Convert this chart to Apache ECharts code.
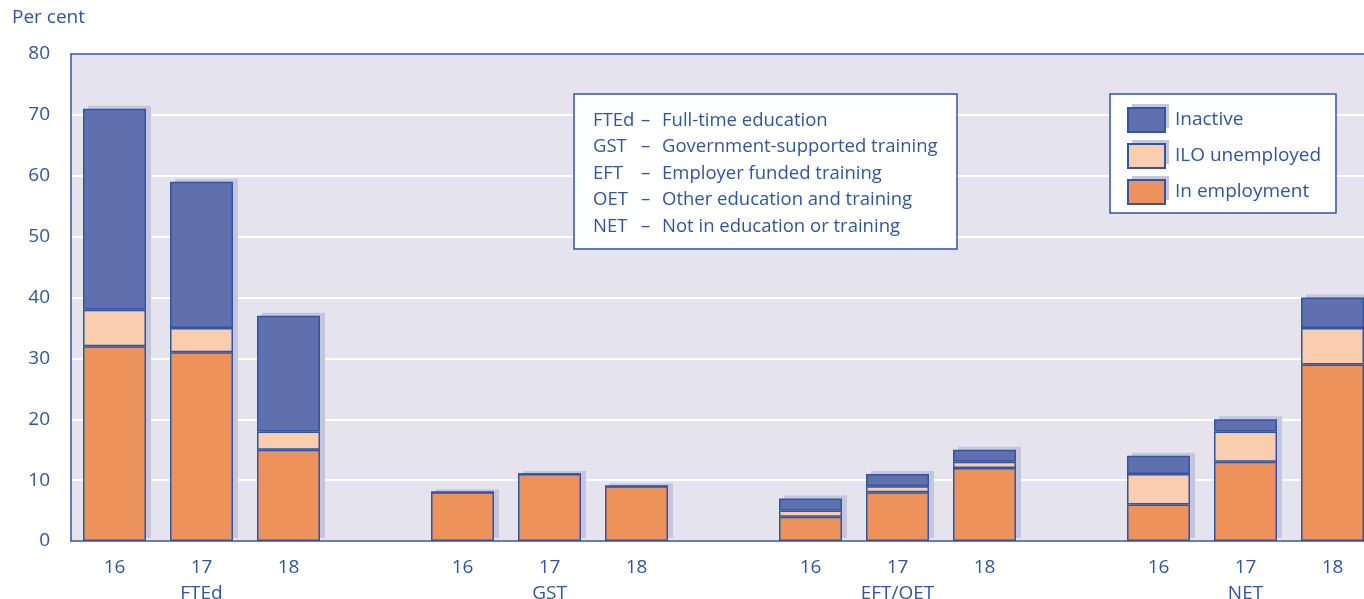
<!DOCTYPE html>
<html><head><meta charset="utf-8">
<script src="https://cdn.jsdelivr.net/npm/echarts@6/dist/echarts.min.js"></script>
<style>html,body{margin:0;padding:0;background:#fff}#c{width:1364px;height:599px}</style>
</head><body><div id="c"></div>
<script>
const groups = ['FTEd','GST','EFT/OET','NET'];
const ages = ['16','17','18'];
const categories = ['FTEd-16','FTEd-17','FTEd-18','gap1','GST-16','GST-17','GST-18','gap2','EFT/OET-16','EFT/OET-17','EFT/OET-18','gap3','NET-16','NET-17','NET-18'];
const inEmployment = [32,31,15,null,8,11,9,null,4,8,12,null,6,13,29];
const iloUnemployed = [6,4,3,null,0,0,0,null,1,1,1,null,5,5,6];
const inactive = [33,24,19,null,0,0,0,null,2,2,2,null,3,2,5];
const yTicks = [0,10,20,30,40,50,60,70,80];
const abbrevs = [['FTEd','Full-time education'],['GST','Government-supported training'],['EFT','Employer funded training'],['OET','Other education and training'],['NET','Not in education or training']];
const legendNames = ['Inactive','ILO unemployed','In employment'];

const BLUE = '#2f56a2';
const SHADOW = '#c5c5dc';
const FONT = 'Open Sans';
const totals = categories.map((c,i)=> inEmployment[i]==null ? null : inEmployment[i]+iloUnemployed[i]+inactive[i]);

function bar(name, data, color){
  return {name, type:'bar', stack:'s', data, barWidth:63, z:3,
    itemStyle:{color, borderColor:BLUE, borderWidth:1.5},
    emphasis:{disabled:true}};
}
const chart = echarts.init(document.getElementById('c'), null, {renderer:'canvas'});
const absLines = abbrevs.map(a=>a[0]).join('\n');
const descLines = abbrevs.map(a=>a[1]).join('\n');
const dashLines = abbrevs.map(()=> '–').join('\n');

const legendGraphics = [
  {type:'rect', shape:{x:1110, y:94, width:226, height:119}, style:{fill:'#ffffff', stroke:BLUE, lineWidth:1.5}, z:10}
];
legendNames.forEach((n,i)=>{
  legendGraphics.push({type:'rect', shape:{x:1132, y:104+i*36, width:37, height:24}, style:{fill:SHADOW}, z:11});
});

chart.setOption({
  animation:false,
  textStyle:{fontFamily:FONT},
  grid:{left:71, top:54, bottom:58, width:1305, outerBoundsMode:'none', containLabel:false, show:true, backgroundColor:'#e4e3ee', borderWidth:0},
  xAxis:[{type:'category', data:categories,
    axisLine:{lineStyle:{color:BLUE, width:1.5}}, axisTick:{show:false},
    axisLabel:{interval:0, margin:14, color:BLUE, fontSize:19, fontFamily:FONT, lineHeight:26,
      formatter:(v)=>{ if(v.startsWith('gap')) return ''; const i=v.lastIndexOf('-'); const g=v.slice(0,i), a=v.slice(i+1); return a==='17' ? a+'\n'+g : a; }}},
    {type:'category', data:categories, position:'top', axisLine:{show:true, lineStyle:{color:BLUE, width:1.5}}, axisTick:{show:false}, axisLabel:{show:false}}],
  yAxis:{type:'value', min:0, max:80, interval:10,
    axisLine:{show:true, lineStyle:{color:BLUE, width:1.5}}, axisTick:{show:false},
    splitLine:{lineStyle:{color:'#ffffff', width:2}},
    axisLabel:{color:BLUE, fontSize:19, fontFamily:FONT, margin:21, formatter:(v)=> yTicks.includes(v)? String(v):''}},
  legend:{orient:'vertical', left:1111, top:95, data:legendNames, icon:'rect', z:20,
    backgroundColor:'transparent', padding:[12,20,9,16],
    itemWidth:37, itemHeight:24, itemGap:10, selectedMode:false,
    textStyle:{color:BLUE, fontSize:19, fontFamily:FONT, padding:[0,0,0,5]}},
  series:[
    {name:'shadow', type:'custom', z:2, silent:true, data:totals.map((t,i)=>[i,t]),
      renderItem:(params, api)=>{
        const t = api.value(1);
        if (t==null || isNaN(t)) return null;
        const top = api.coord([api.value(0), t]);
        const bot = api.coord([api.value(0), 0]);
        return {type:'rect', shape:{x:top[0]-31.5+5, y:top[1]-3, width:63, height:bot[1]-top[1]}, style:{fill:SHADOW}};
      }},
    bar('In employment', inEmployment, '#ee925c'),
    bar('ILO unemployed', iloUnemployed, '#f9cdad'),
    bar('Inactive', inactive, '#6070ae')
  ],
  graphic:[
    {type:'text', left:12, top:8, style:{text:'Per cent', fill:BLUE, fontSize:19, fontFamily:FONT}},
    {type:'rect', shape:{x:574, y:94, width:383, height:155}, style:{fill:'#ffffff', stroke:BLUE, lineWidth:1.5}, z:10},
    {type:'text', x:593, y:107, z:11, style:{text:absLines, fill:BLUE, fontSize:18.5, fontFamily:FONT, lineHeight:26.5}},
    {type:'text', x:641, y:107, z:11, style:{text:dashLines, fill:BLUE, fontSize:18.5, fontFamily:FONT, lineHeight:26.5}},
    {type:'text', x:662, y:107, z:11, style:{text:descLines, fill:BLUE, fontSize:18.5, fontFamily:FONT, lineHeight:26.5}}
  ].concat(legendGraphics)
});
</script></body></html>
